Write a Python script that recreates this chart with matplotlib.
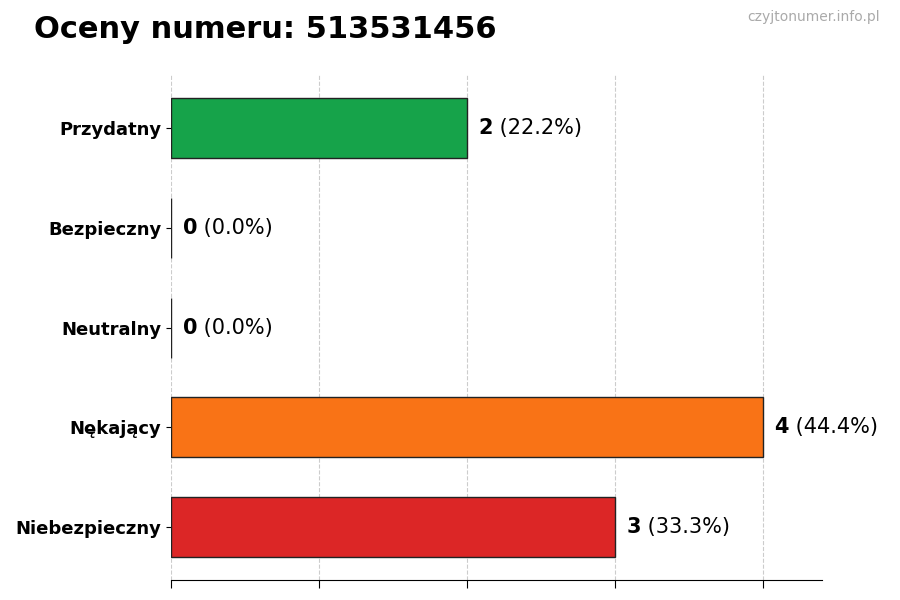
import matplotlib
matplotlib.use('Agg')
import matplotlib.pyplot as plt

categories = ['Przydatny', 'Bezpieczny', 'Neutralny', 'Nękający', 'Niebezpieczny']
counts = [2, 0, 0, 4, 3]
percents = ['22.2%', '0.0%', '0.0%', '44.4%', '33.3%']
colors = ['#16a34a', '#16a34a', '#9ca3af', '#f97316', '#dc2626']

fig = plt.figure(figsize=(9, 6), dpi=100)
ax = fig.add_axes([0.19, 0.033, 0.723, 0.842])

ypos = list(range(len(categories)))
ax.barh(ypos, counts, height=0.6, color=colors, edgecolor='#222222', linewidth=1, zorder=3)
ax.set_ylim(len(categories) - 0.47, -0.53)
ax.set_xlim(0, 4.4)
ax.set_yticks(ypos)
ax.set_yticklabels(categories, fontsize=13, fontweight='bold')
ax.set_xticks([0, 1, 2, 3, 4])
ax.set_xticklabels([])
ax.tick_params(axis='x', length=6)
ax.grid(axis='x', linestyle='--', color='#cccccc', linewidth=0.8, zorder=0)
for s in ['top', 'right', 'left']:
    ax.spines[s].set_visible(False)

for y, c, p in zip(ypos, counts, percents):
    t = ax.text(c + 0.08, y, str(c), fontsize=15, fontweight='bold', va='center', ha='left')
    ax.annotate(' (%s)' % p, xy=(1, 0.5), xycoords=t, va='center', ha='left', fontsize=15)

fig.text(0.038, 0.95, 'Oceny numeru: 513531456', fontsize=22, fontweight='bold', va='center')
fig.text(0.978, 0.972, 'czyjtonumer.info.pl', fontsize=10, color='#aaaaaa', ha='right', va='center')

fig.savefig('out.png', dpi=100)
